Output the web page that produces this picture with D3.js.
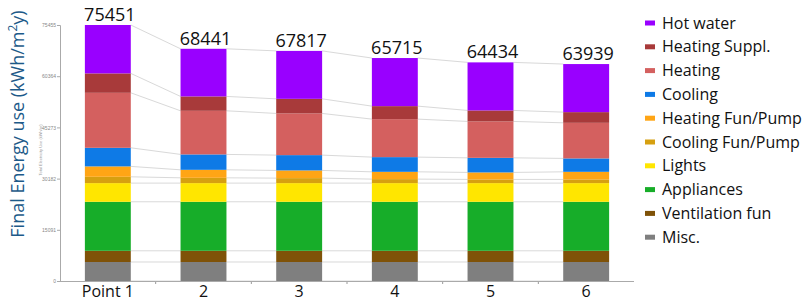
<!DOCTYPE html>
<html><head><meta charset="utf-8">
<script src="https://cdn.jsdelivr.net/npm/d3@7"></script>
<style>body{margin:0;background:#fff}svg{display:block}</style>
</head><body><svg id="c" width="808" height="303"></svg>
<script>
const categories = ["Point 1","2","3","4","5","6"];
const totals = [75451, 68441, 67817, 65715, 64434, 63939];
const seriesNames = ["Misc.","Ventilation fun","Appliances","Lights","Cooling Fun/Pump","Heating Fun/Pump","Cooling","Heating","Heating Suppl.","Hot water"];
const misc        = [5600, 5600, 5600, 5600, 5600, 5600];
const ventilation = [3300, 3300, 3300, 3300, 3300, 3300];
const appliances  = [14450, 14450, 14450, 14450, 14450, 14450];
const lights      = [5500, 5500, 5500, 5500, 5500, 5500];
const coolingFan  = [1860, 1560, 1470, 1180, 1090, 1090];
const heatingFan  = [3065, 2360, 2270, 2150, 2060, 2240];
const cooling     = [5480, 4540, 4510, 4330, 4300, 3950];
const heating     = [16210, 12850, 12290, 11200, 10730, 10490];
const heatingSupp = [5720, 4240, 4300, 3830, 3240, 3150];
const hotWater    = [14265, 14041, 14127, 14175, 14164, 14169];
const yTicks = [0, 15091, 30182, 45273, 60364, 75455];
const colors = ["#7f7f7f","#7f5208","#17ad29","#ffe600","#d6a010","#ffa515","#0e7ae6","#d4605f","#a83a3a","#9900ff"];

const seriesVals = [misc, ventilation, appliances, lights, coolingFan, heatingFan, cooling, heating, heatingSupp, hotWater];
const rows = categories.map((c,i)=>{const r={cat:c}; seriesNames.forEach((s,j)=>r[s]=seriesVals[j][i]); return r;});
const stack = d3.stack().keys(seriesNames)(rows);

const svg = d3.select("#c");
const x = d3.scaleBand().domain(categories).range([60,634]).paddingInner(0.52).paddingOuter(0.26);
const y = d3.scaleLinear().domain([0, 75451]).range([281, 25]);

// connector lines
const g = svg.append("g");
const bounds = [];
stack.forEach(layer=>{ bounds.push(layer.map(d=>d[1])); });
bounds.unshift(stack[0].map(d=>d[0]));
bounds.forEach(b=>{
  for(let i=0;i<categories.length-1;i++){
    g.append("line")
      .attr("x1", x(categories[i])+x.bandwidth()).attr("y1", y(b[i]))
      .attr("x2", x(categories[i+1])).attr("y2", y(b[i+1]))
      .attr("stroke","#d9d9d9").attr("stroke-width",1);
  }
});

// bars
svg.append("g").selectAll("g").data(stack).join("g")
  .attr("fill",(d,i)=>colors[i])
  .selectAll("rect").data(d=>d).join("rect")
  .attr("x",d=>x(d.data.cat)).attr("width",x.bandwidth())
  .attr("y",d=>y(d[1])).attr("height",d=>y(d[0])-y(d[1]));

// y axis
const ya = svg.append("g").attr("transform","translate(60,0)")
  .call(d3.axisLeft(y).tickValues(yTicks).tickFormat(d3.format("d")).tickSize(3).tickPadding(1));
ya.selectAll("text").attr("font-size",5).attr("fill","#888").attr("font-family","Liberation Sans, Arial");
ya.selectAll("line,path").attr("stroke","#aaa");

// x axis
const xa = svg.append("g").attr("transform","translate(0,281)")
  .call(d3.axisBottom(x).tickSize(0).tickPadding(5));
xa.select("path").attr("stroke","#aaa").attr("d","M60,0.5H634");
xa.selectAll("text").attr("font-size",16).attr("fill","#111").attr("font-family","Open Sans, sans-serif").attr("dy","0.71em");
// small ticks between categories
const step = x.step();
xa.append("g").selectAll("line").data(categories.slice(1)).join("line")
  .attr("x1",d=>x(d)-x.bandwidth()*0.0 - (step-x.bandwidth())/2).attr("x2",d=>x(d)-(step-x.bandwidth())/2)
  .attr("y1",1).attr("y2",3).attr("stroke","#999");

// totals
svg.append("g").selectAll("text").data(categories).join("text")
  .attr("x",(d)=>x(d)+x.bandwidth()/2+2).attr("y",(d,i)=>y(totals[i])-4)
  .attr("text-anchor","middle").attr("font-size",18).attr("fill","#111")
  .attr("font-family","Open Sans, sans-serif").text((d,i)=>totals[i]);

// tiny inner axis title
svg.append("text").attr("transform","translate(42,150) rotate(-90)")
  .attr("text-anchor","middle").attr("font-size",4).attr("fill","#999")
  .attr("font-family","Liberation Sans, Arial").text("Total Electricity Use (kWh/yr)");

// y title
const yt = svg.append("text").attr("transform","translate(24,124) rotate(-90)")
  .attr("text-anchor","middle").attr("font-size",18).attr("fill","#1d5a89")
  .attr("font-family","Open Sans, sans-serif");
yt.append("tspan").text("Final Energy use  (kWh/m");
yt.append("tspan").attr("font-size",12).attr("dy",-7).text("2");
yt.append("tspan").attr("dy",7).text("y)");

// legend
const leg = svg.append("g").attr("transform","translate(645,23)");
const legOrder = seriesNames.slice().reverse();
const li = leg.selectAll("g").data(legOrder).join("g").attr("transform",(d,i)=>`translate(0,${i*23.8})`);
li.append("rect").attr("x",0).attr("y",-2.5).attr("width",10).attr("height",5)
  .attr("fill",d=>colors[seriesNames.indexOf(d)]);
li.append("text").attr("x",17).attr("y",0).attr("dy","0.35em")
  .attr("font-size",16).attr("fill","#111").attr("font-family","Open Sans, sans-serif").text(d=>d);
</script></body></html>
